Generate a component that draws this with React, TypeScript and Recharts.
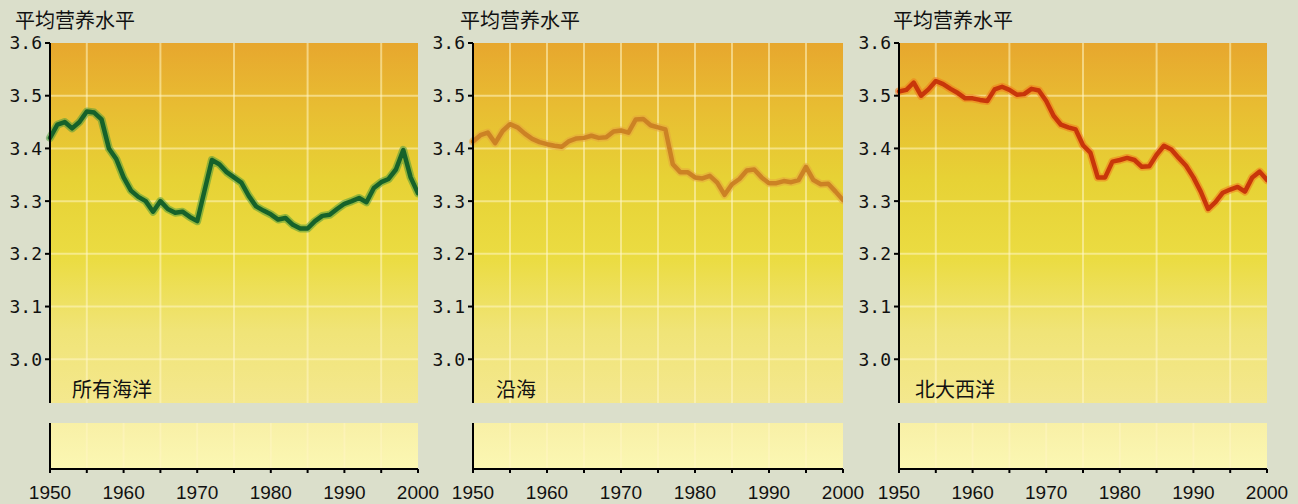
import React from 'react';
import { LineChart, Line, XAxis, YAxis, CartesianGrid } from 'recharts';

const years = [
  1950, 1951, 1952, 1953, 1954, 1955, 1956, 1957, 1958, 1959,
  1960, 1961, 1962, 1963, 1964, 1965, 1966, 1967, 1968, 1969,
  1970, 1971, 1972, 1973, 1974, 1975, 1976, 1977, 1978, 1979,
  1980, 1981, 1982, 1983, 1984, 1985, 1986, 1987, 1988, 1989,
  1990, 1991, 1992, 1993, 1994, 1995, 1996, 1997, 1998, 1999, 2000,
];

const allOcean = [
  3.42, 3.445, 3.45, 3.438, 3.45, 3.47, 3.468, 3.455, 3.4, 3.38,
  3.345, 3.32, 3.308, 3.3, 3.28, 3.3, 3.285, 3.278, 3.28, 3.27,
  3.262, 3.32, 3.378, 3.37, 3.355, 3.345, 3.335, 3.31, 3.29, 3.282,
  3.275, 3.265, 3.268, 3.255, 3.248, 3.248, 3.262, 3.272, 3.274, 3.285,
  3.295, 3.3, 3.306, 3.298, 3.325, 3.336, 3.342, 3.36, 3.397, 3.345, 3.315,
];

const coastal = [
  3.413, 3.425, 3.43, 3.41, 3.433, 3.446, 3.44, 3.428, 3.418, 3.412,
  3.408, 3.405, 3.403, 3.414, 3.419, 3.42, 3.424, 3.42, 3.421, 3.432,
  3.434, 3.43, 3.455, 3.456, 3.444, 3.44, 3.436, 3.37, 3.355, 3.355,
  3.345, 3.343, 3.348, 3.335, 3.312, 3.332, 3.342, 3.358, 3.36, 3.345,
  3.334, 3.334, 3.338, 3.336, 3.34, 3.365, 3.34, 3.332, 3.333, 3.318, 3.302,
];

const northAtlantic = [
  3.508, 3.511, 3.525, 3.5, 3.512, 3.528, 3.522, 3.513, 3.505, 3.495,
  3.495, 3.492, 3.49, 3.512, 3.517, 3.511, 3.502, 3.503, 3.513, 3.51,
  3.49, 3.462, 3.445, 3.44, 3.436, 3.406, 3.392, 3.345, 3.345, 3.375,
  3.378, 3.382, 3.378, 3.365, 3.366, 3.388, 3.405, 3.398, 3.382, 3.367,
  3.345, 3.318, 3.285, 3.298, 3.316, 3.322, 3.327, 3.318, 3.345, 3.356, 3.34,
];

const yTicks = [3.0, 3.1, 3.2, 3.3, 3.4, 3.5, 3.6];
const xTicks = [1950, 1955, 1960, 1965, 1970, 1975, 1980, 1985, 1990, 1995, 2000];
const yTitle = '平均营养水平';

const panels = [
  { label: '所有海洋', values: allOcean, color: '#16622a', glow: '#4f9a3a', left: 0, plotW: 368, titleX: 15, labelX: 72 },
  { label: '沿海', values: coastal, color: '#cc8224', glow: '#e6a63c', left: 423, plotW: 370, titleX: 460, labelX: 496 },
  { label: '北大西洋', values: northAtlantic, color: '#c8360a', glow: '#f07a1c', left: 849, plotW: 368, titleX: 893, labelX: 915 },
];

const AXIS_W = 50;
const cjk = '"Noto Sans CJK SC", "Noto Sans", sans-serif';

function Panel({ p, idx }: { p: typeof panels[number]; idx: number }) {
  const rows = years.map((y, i) => ({ year: y, v: p.values[i] }));
  const gridStroke = '#fff6c4';
  return (
    <>
      <div style={{ position: 'absolute', left: p.left, top: 0 }}>
        <LineChart width={AXIS_W + p.plotW} height={403} data={rows} margin={{ top: 43, right: 0, bottom: 0, left: 0 }}>
          <defs>
            <linearGradient id={`bgTop${idx}`} x1="0" y1="0" x2="0" y2="1">
              <stop offset="0" stopColor="#e7a72e" />
              <stop offset="0.18" stopColor="#e8bd32" />
              <stop offset="0.38" stopColor="#e7d235" />
              <stop offset="0.6" stopColor="#ebdc42" />
              <stop offset="0.8" stopColor="#f0e477" />
              <stop offset="1" stopColor="#f4e88e" />
            </linearGradient>
          </defs>
          <CartesianGrid
            fill={`url(#bgTop${idx})`}
            stroke={gridStroke}
            strokeOpacity={0.55}
            strokeWidth={2}
            horizontalValues={[3.0, 3.1, 3.2, 3.3, 3.4, 3.5]}
            verticalValues={[1955, 1960, 1965, 1970, 1975, 1980, 1985, 1990, 1995]}
          />
          <XAxis type="number" dataKey="year" domain={[1950, 2000]} ticks={xTicks} hide />
          <YAxis
            type="number"
            domain={[2.917, 3.6]}
            ticks={yTicks}
            allowDataOverflow
            width={AXIS_W}
            interval={0}
            tickFormatter={(v: number) => v.toFixed(1)}
            axisLine={{ stroke: '#000', strokeWidth: 2 }}
            tickLine={{ stroke: '#000', strokeWidth: 2 }}
            tickSize={5}
            tickMargin={3}
            tick={{ fill: '#111', fontSize: 18, fontFamily: '"DejaVu Sans Mono", monospace' }}
          />
          <Line type="linear" dataKey="v" stroke={p.glow} strokeOpacity={0.55} strokeWidth={8} dot={false} isAnimationActive={false} strokeLinejoin="round" strokeLinecap="round" />
          <Line type="linear" dataKey="v" stroke={p.color} strokeWidth={4.5} dot={false} isAnimationActive={false} strokeLinejoin="round" strokeLinecap="round" />
        </LineChart>
      </div>
      <div style={{ position: 'absolute', left: p.left, top: 423 }}>
        <LineChart width={AXIS_W + p.plotW + 30} height={81} data={rows} margin={{ top: 0, right: 30, bottom: 0, left: 0 }}>
          <defs>
            <linearGradient id={`bgBot${idx}`} x1="0" y1="0" x2="0" y2="1">
              <stop offset="0" stopColor="#f8f0a6" />
              <stop offset="1" stopColor="#fbf7b3" />
            </linearGradient>
          </defs>
          <CartesianGrid
            fill={`url(#bgBot${idx})`}
            stroke={gridStroke}
            strokeOpacity={0.5}
            strokeWidth={2}
            horizontal={false}
            verticalValues={[1955, 1960, 1965, 1970, 1975, 1980, 1985, 1990, 1995]}
          />
          <XAxis
            type="number"
            dataKey="year"
            domain={[1950, 2000]}
            ticks={xTicks}
            interval={0}
            height={35}
            tickFormatter={(v: number) => (v % 10 === 0 ? String(v) : '')}
            axisLine={{ stroke: '#000', strokeWidth: 2 }}
            tickLine={{ stroke: '#000', strokeWidth: 2 }}
            tickSize={4}
            tickMargin={13}
            tick={{ fill: '#111', fontSize: 19, fontFamily: '"Liberation Sans", Arial, sans-serif' }}
          />
          <YAxis
            type="number"
            domain={[0, 1]}
            ticks={[0]}
            width={AXIS_W}
            axisLine={{ stroke: '#000', strokeWidth: 2 }}
            tickLine={{ stroke: '#000', strokeWidth: 2 }}
            tickSize={5}
            tickMargin={4}
            tick={{ fill: '#111', fontSize: 18, fontFamily: '"DejaVu Sans Mono", monospace' }}
          />
        </LineChart>
      </div>
      <div style={{ position: 'absolute', left: p.titleX, top: 8, fontFamily: cjk, fontSize: 20, lineHeight: '24px', color: '#111', whiteSpace: 'nowrap' }}>
        {yTitle}
      </div>
      <div style={{ position: 'absolute', left: p.labelX, top: 377, fontFamily: cjk, fontSize: 20, lineHeight: '24px', color: '#111', whiteSpace: 'nowrap' }}>
        {p.label}
      </div>
    </>
  );
}

export default function App() {
  return (
    <div style={{ position: 'absolute', left: 0, top: 0, width: 1298, height: 504, background: '#dbdfcb', overflow: 'hidden' }}>
      {panels.map((p, i) => (
        <Panel key={i} p={p} idx={i} />
      ))}
    </div>
  );
}
